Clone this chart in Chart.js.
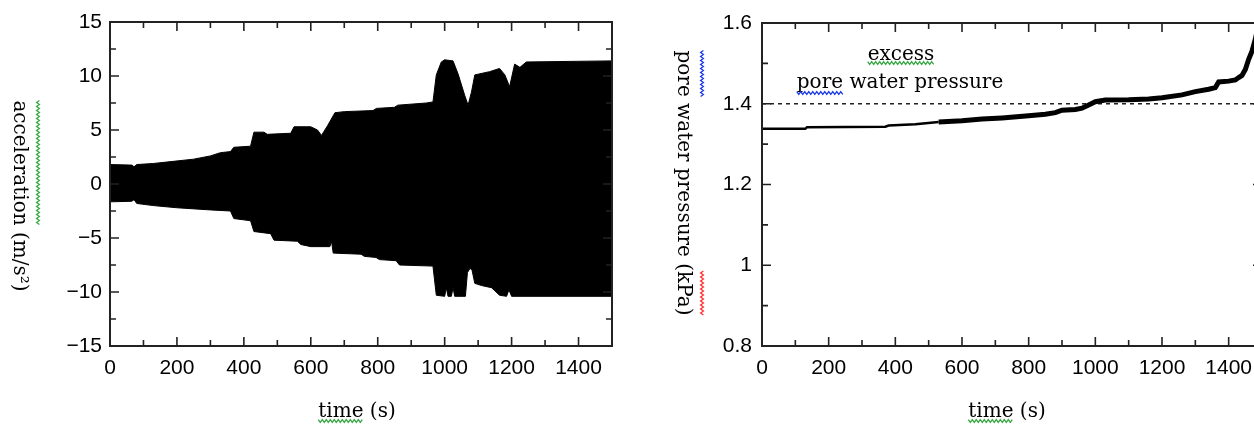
<!DOCTYPE html>
<html>
<head>
<meta charset="utf-8">
<script src="https://cdn.jsdelivr.net/npm/chart.js@4/dist/chart.umd.min.js"></script>
<style>
html, body { margin: 0; padding: 0; background: #fff; overflow: hidden; width: 1254px; height: 424px; }
canvas { position: absolute; top: 0; }
#acc { left: 0; }
#pwp { left: 640px; }
</style>
</head>
<body>
<canvas id="acc" width="640" height="424"></canvas>
<canvas id="pwp" width="640" height="424"></canvas>
<script>
// acceleration envelope (upper / lower edge of the black band)
const accUpperTime = [0, 65, 72, 80, 130, 190, 250, 300, 330, 360, 370, 420, 430, 460, 470, 540, 550, 600, 620, 632, 650, 672, 700, 786, 796, 850, 860, 945, 965, 975, 990, 1000, 1025, 1040, 1060, 1070, 1080, 1090, 1134, 1164, 1180, 1194, 1209, 1225, 1244, 1500];
const accUpper     = [1.8, 1.75, 1.6, 1.8, 1.9, 2.1, 2.3, 2.6, 2.9, 3.0, 3.4, 3.5, 4.8, 4.8, 4.6, 4.7, 5.3, 5.3, 5.0, 4.5, 5.4, 6.6, 6.7, 6.8, 7.0, 7.1, 7.3, 7.5, 7.6, 10.1, 11.3, 11.5, 11.4, 10.2, 8.2, 7.3, 8.5, 10.1, 10.4, 10.7, 10.1, 9.0, 11.1, 10.8, 11.3, 11.4];
const accLowerTime = [0, 65, 72, 80, 130, 200, 300, 360, 370, 420, 430, 480, 490, 560, 570, 600, 657, 662, 667, 750, 760, 795, 805, 855, 865, 965, 975, 1000, 1005, 1010, 1020, 1025, 1030, 1062, 1068, 1076, 1082, 1090, 1110, 1140, 1164, 1185, 1192, 1200, 1500];
const accLower     = [-1.65, -1.6, -1.45, -1.8, -2.0, -2.2, -2.4, -2.5, -3.2, -3.4, -4.4, -4.6, -5.2, -5.3, -5.6, -5.8, -5.8, -5.3, -6.4, -6.5, -6.7, -6.8, -7.0, -7.1, -7.5, -7.6, -10.3, -10.4, -9.6, -10.4, -10.4, -9.6, -10.4, -10.4, -8.2, -7.8, -8.0, -9.2, -9.4, -9.6, -10.3, -10.4, -9.8, -10.4, -10.4];

// pore water pressure
const pwpTime  = [0, 130, 135, 370, 380, 460, 530, 600, 660, 720, 800, 850, 880, 900, 940, 960, 980, 1000, 1030, 1100, 1160, 1200, 1260, 1300, 1340, 1360, 1370, 1400, 1420, 1430, 1440, 1450, 1460, 1470, 1480, 1490];
const pwpValue = [1.338, 1.338, 1.342, 1.343, 1.346, 1.349, 1.355, 1.358, 1.362, 1.365, 1.37, 1.374, 1.378, 1.384, 1.386, 1.389, 1.397, 1.405, 1.409, 1.41, 1.412, 1.415, 1.422, 1.43, 1.436, 1.44, 1.454, 1.456, 1.459, 1.465, 1.47, 1.485, 1.51, 1.53, 1.56, 1.6];
const pwpThreshold = 1.4;

// tick labels
const timeTicks = [0, 200, 400, 600, 800, 1000, 1200, 1400];
const accTicks = [-15, -10, -5, 0, 5, 10, 15];
const accTickLabels = ['\u221215', '\u221210', '\u22125', '0', '5', '10', '15'];
const pwpTicks = [0.8, 1, 1.2, 1.4, 1.6];
const pwpTickLabels = ['0.8', '1', '1.2', '1.4', '1.6'];

const tickFont = { family: 'Liberation Sans', size: 21 };
const serif = '20px "DejaVu Serif"';
const GREEN = '#38a845', BLUE = '#1c3ce6', RED = '#ff3030';

function pts(xs, ys) {
    return xs.map((x, i) => ({ x: x, y: ys[i] }));
}

function labelFor(values, labels) {
    return v => {
        const i = values.findIndex(t => Math.abs(t - v) < 1e-6);
        return i < 0 ? '' : labels[i];
    };
}

// squiggly underline (spell-check marks)
function squiggle(ctx, x, y, w, color) {
    ctx.save();
    ctx.strokeStyle = color;
    ctx.lineWidth = 1.3;
    ctx.beginPath();
    let up = true;
    for (let px = 0; px <= w; px += 2) {
        const py = y + (up ? -1.4 : 1.4);
        if (px === 0) ctx.moveTo(x + px, py); else ctx.lineTo(x + px, py);
        up = !up;
    }
    ctx.stroke();
    ctx.restore();
}

// text with optional squiggles, centred on cx, baseline at by, rotated by rot
function drawText(ctx, text, cx, by, rot, marks) {
    ctx.save();
    ctx.translate(cx, by);
    ctx.rotate(rot);
    ctx.font = serif;
    ctx.fillStyle = '#000';
    ctx.textAlign = 'left';
    ctx.textBaseline = 'alphabetic';
    const w = ctx.measureText(text).width;
    const x0 = -w / 2;
    ctx.fillText(text, x0, 0);
    (marks || []).forEach(m => {
        const mx = x0 + ctx.measureText(text.slice(0, m.from)).width;
        const mw = ctx.measureText(text.slice(m.from, m.to)).width;
        squiggle(ctx, mx, m.dy, mw, m.color);
    });
    ctx.restore();
}

// frame and inward ticks on all four sides
const frameTicks = {
    id: 'frameTicks',
    afterDatasetsDraw(chart) {
        const { ctx, chartArea: a, scales } = chart;
        ctx.save();
        ctx.strokeStyle = '#222';
        ctx.lineWidth = 1.6;
        ctx.beginPath();
        scales.x.ticks.forEach(t => {
            const x = scales.x.getPixelForValue(t.value);
            const len = t.label !== '' ? 9 : 6;
            ctx.moveTo(x, a.bottom); ctx.lineTo(x, a.bottom - len);
            ctx.moveTo(x, a.top); ctx.lineTo(x, a.top + len);
        });
        scales.y.ticks.forEach(t => {
            const y = scales.y.getPixelForValue(t.value);
            const len = t.label !== '' ? 9 : 6;
            ctx.moveTo(a.left, y); ctx.lineTo(a.left + len, y);
            ctx.moveTo(a.right, y); ctx.lineTo(a.right - len, y);
        });
        ctx.stroke();
        ctx.lineWidth = 2;
        ctx.strokeRect(a.left, a.top, a.width, a.height);
        ctx.restore();
    }
};

const accTexts = {
    id: 'accTexts',
    afterDraw(chart) {
        const ctx = chart.ctx;
        drawText(ctx, 'acceleration (m/s\u00b2)', 14, 196, Math.PI / 2, [{ from: 0, to: 12, dy: -24, color: GREEN }]);
        drawText(ctx, 'time (s)', 357, 417, 0, [{ from: 0, to: 4, dy: 4, color: GREEN }]);
    }
};

const pwpTexts = {
    id: 'pwpTexts',
    afterDraw(chart) {
        const ctx = chart.ctx;
        drawText(ctx, 'pore water pressure (kPa)', 38, 183, Math.PI / 2, [
            { from: 0, to: 4, dy: -24, color: BLUE },
            { from: 21, to: 25, dy: -24, color: RED }
        ]);
        drawText(ctx, 'time (s)', 367, 417, 0, [{ from: 0, to: 4, dy: 4, color: GREEN }]);
        drawText(ctx, 'excess', 261, 60, 0, [{ from: 0, to: 6, dy: 3, color: GREEN }]);
        drawText(ctx, 'pore water pressure', 260, 88, 0, [{ from: 0, to: 4, dy: 5, color: BLUE }]);
    }
};

function xScale(labelPad) {
    return {
        type: 'linear', min: 0, max: 1500,
        ticks: { stepSize: 100, autoSkip: false, maxRotation: 0, padding: labelPad, font: tickFont, color: '#000', callback: labelFor(timeTicks, timeTicks.map(String)) },
        grid: { display: false, drawTicks: false },
        border: { display: false },
        afterFit: s => { s.height = 78; }
    };
}

// acceleration chart
new Chart(document.getElementById('acc'), {
    type: 'line',
    data: {
        datasets: [
            { data: pts(accUpperTime, accUpper), borderColor: '#000', backgroundColor: '#000', borderWidth: 1, pointRadius: 0, fill: 'origin', tension: 0 },
            { data: pts(accLowerTime, accLower), borderColor: '#000', backgroundColor: '#000', borderWidth: 1, pointRadius: 0, fill: 'origin', tension: 0 }
        ]
    },
    options: {
        responsive: false,
        animation: false,
        layout: { padding: { top: 22, right: 28, left: 0, bottom: 0 } },
        scales: {
            x: xScale(10),
            y: {
                min: -15, max: 15,
                ticks: { stepSize: 2.5, autoSkip: false, padding: 8, font: tickFont, color: '#000', callback: labelFor(accTicks, accTickLabels) },
                grid: { display: false, drawTicks: false },
                border: { display: false },
                afterFit: s => { s.width = 110; }
            }
        },
        plugins: { legend: { display: false }, tooltip: { enabled: false } }
    },
    plugins: [frameTicks, accTexts]
});

// pore water pressure chart (its right edge runs past the window)
new Chart(document.getElementById('pwp'), {
    type: 'line',
    data: {
        datasets: [
            {
                data: pts(pwpTime, pwpValue), borderColor: '#000', borderWidth: 4, pointRadius: 0, fill: false, tension: 0,
                segment: { borderWidth: c => c.p0.parsed.x < 480 ? 2.5 : 5 }
            },
            { data: pts([0, 1500], [pwpThreshold, pwpThreshold]), borderColor: '#222', borderWidth: 1.5, borderDash: [4, 4], pointRadius: 0, fill: false }
        ]
    },
    options: {
        responsive: false,
        animation: false,
        layout: { padding: { top: 23, right: 18, left: 0, bottom: 0 } },
        scales: {
            x: xScale(10),
            y: {
                min: 0.8, max: 1.6,
                ticks: { stepSize: 0.1, autoSkip: false, padding: 10, font: tickFont, color: '#000', callback: labelFor(pwpTicks, pwpTickLabels) },
                grid: { display: false, drawTicks: false },
                border: { display: false },
                afterFit: s => { s.width = 122; }
            }
        },
        plugins: { legend: { display: false }, tooltip: { enabled: false } }
    },
    plugins: [frameTicks, pwpTexts]
});
</script>
</body>
</html>
